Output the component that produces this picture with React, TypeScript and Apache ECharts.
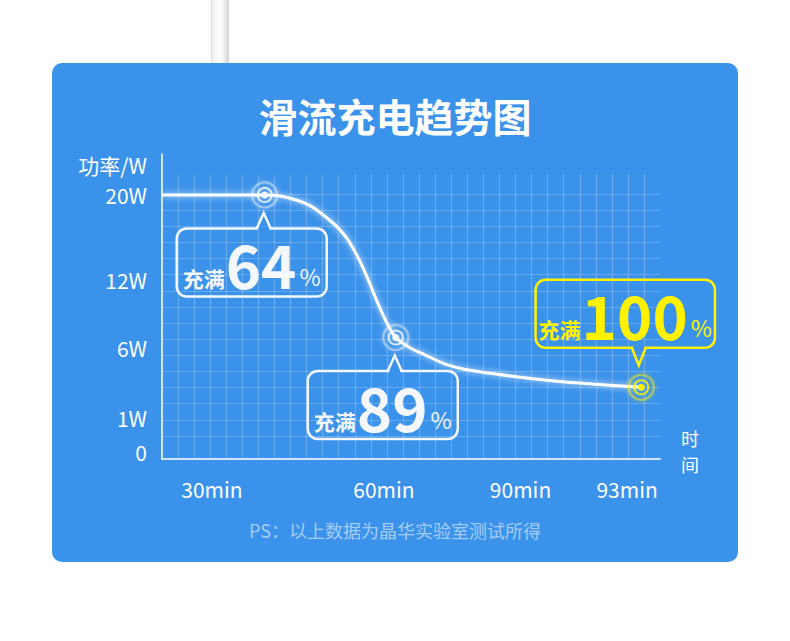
import React, { useEffect, useRef } from 'react';
import * as echarts from 'echarts';

// bottom axis ticks (time)
const xTickLabels = ['30min', '60min', '90min', '93min'];
const xTickMinutes = [30, 60, 90, 93];

// left axis ticks (power)
const yTickLabels = ['0', '1W', '6W', '12W', '20W'];
const yTickWatts = [0, 1, 6, 12, 20];

// charging curve: minutes / watts
const curveMinutes = [0, 39.2, 41.9, 44.8, 47.4, 49.9, 52.0, 53.7, 55.1, 56.3, 57.6, 58.8, 60.4, 62.6, 65.7, 69.0, 73.8, 78.9, 87.7, 91.1, 92.2, 93.4];
const curveWatts = [20, 20, 19.9, 19.5, 18.9, 17.9, 16.9, 15.8, 14.5, 13.2, 11.6, 10.1, 8.4, 6.9, 6.0, 5.5, 4.8, 4.4, 4.0, 3.6, 3.4, 3.2];

// charge level checkpoints on the curve
const markMinutes = [39.2, 62.6, 93.4];
const markWatts = [20, 6.9, 3.2];
const markPercent = ['64', '89', '100'];

// the drawn axes are not linear: each tick sits on a hand-placed grid cell
const CELL_X = 16.07;
const CELL_Y = 16.13;
const xTickCell = [3.11, 13.81, 22.31, 28.94];
const yTickCell = [0.45, 2.52, 6.9, 11.1, 16.37];

const FONT = '"Noto Sans CJK SC", "Noto Sans", sans-serif';
const BLUE = '#3b92ea';
const YELLOW = '#fff200';
const WHITE = '#f4f7fb';

// piecewise linear scale between tick anchors (extends past the last one)
const piecewise = (domain: number[], range: number[]) => (v: number) => {
  let i = 1;
  while (i < domain.length - 1 && v > domain[i]) i++;
  const t = (v - domain[i - 1]) / (domain[i] - domain[i - 1]);
  return range[i - 1] + t * (range[i] - range[i - 1]);
};
const toX = piecewise([0, ...xTickMinutes], [0, ...xTickCell]);
const toY = piecewise(yTickWatts, yTickCell);

const labelFor = (at: number[], labels: string[]) => (v: number) => {
  let best = 0;
  at.forEach((p, i) => {
    if (Math.abs(p - v) < Math.abs(at[best] - v)) best = i;
  });
  return labels[best];
};

const App: React.FC = () => {
  const chartRef = useRef<HTMLDivElement>(null);

  useEffect(() => {
    if (!chartRef.current) return;
    const chart = echarts.init(chartRef.current, undefined, { renderer: 'svg' });

    const curve = curveMinutes.map((m, i) => [toX(m), toY(curveWatts[i])]);
    const marks = markMinutes.map((m, i) => [toX(m), toY(markWatts[i]), i]);
    const xLabelAt = xTickMinutes.map(toX);
    const yLabelAt = yTickWatts.map(toY);

    const gridLine = { lineStyle: { color: 'rgba(255,255,255,0.22)', width: 1.2 } };
    const BOX_H = 68;

    // time axis title, one character per line past the end of the axis
    const timeTitle = ['时', '间'].map((ch, i) => ({
      type: 'text',
      x: 690,
      y: 437.5 + i * 26,
      style: {
        text: ch,
        fill: '#ffffff',
        font: `18px ${FONT}`,
        textAlign: 'center',
        textVerticalAlign: 'middle',
      },
    }));

    const option: any = {
      animation: false,
      backgroundColor: '#ffffff',
      title: {
        text: '滑流充电趋势图',
        left: 'center',
        top: 90,
        textStyle: { color: '#ffffff', fontSize: 39, fontWeight: 'bold', fontFamily: FONT },
      },
      graphic: [
        {
          type: 'rect',
          z: -10,
          shape: { x: 211, y: 0, width: 18, height: 64 },
          style: {
            fill: new echarts.graphic.LinearGradient(0, 0, 1, 0, [
              { offset: 0, color: '#dcdcdc' },
              { offset: 0.15, color: '#f5f5f5' },
              { offset: 0.55, color: '#ffffff' },
              { offset: 0.75, color: '#ececec' },
              { offset: 1, color: '#d2d2d2' },
            ]),
          },
        },
        {
          type: 'rect',
          z: -10,
          shape: { x: 52, y: 63, width: 686, height: 499, r: 10 },
          style: { fill: BLUE },
        },
        {
          type: 'text',
          x: 395,
          y: 530,
          style: {
            text: 'PS：以上数据为晶华实验室测试所得',
            fill: 'rgba(255,255,255,0.55)',
            font: `18px ${FONT}`,
            textAlign: 'center',
            textVerticalAlign: 'middle',
          },
        },
        ...timeTitle,
      ],
      grid: [
        { left: 162, top: 154, width: 31 * CELL_X, height: 305 },
        { left: 178, top: 174, width: 29 * CELL_X, height: 285 },
        { left: 162, top: 194, width: 31 * CELL_X, height: 15 * CELL_Y },
      ],
      xAxis: [
        {
          gridIndex: 0,
          type: 'value',
          min: 0,
          max: 31,
          axisLine: { lineStyle: { color: '#ffffff', width: 1.5 } },
          axisTick: { show: false },
          splitLine: { show: false },
          axisLabel: {
            customValues: xLabelAt,
            formatter: labelFor(xLabelAt, xTickLabels),
            color: '#ffffff',
            fontSize: 21,
            fontFamily: FONT,
            margin: 19,
          },
        },
        {
          gridIndex: 1,
          type: 'value',
          min: 0,
          max: 29,
          interval: 1,
          axisLine: { show: false },
          axisTick: { show: false },
          axisLabel: { show: false },
          splitLine: gridLine,
        },
        { gridIndex: 2, type: 'value', show: false, min: 0, max: 1 },
      ],
      yAxis: [
        {
          gridIndex: 0,
          type: 'value',
          min: 0,
          max: 305 / CELL_Y,
          axisLine: { show: true, lineStyle: { color: '#ffffff', width: 1.5 } },
          axisTick: { show: false },
          splitLine: { show: false },
          axisLabel: {
            customValues: yLabelAt,
            formatter: labelFor(yLabelAt, yTickLabels),
            color: '#ffffff',
            fontSize: 21,
            fontFamily: FONT,
            margin: 15,
          },
          name: '功率/W',
          nameLocation: 'end',
          nameGap: -10.6,
          nameTextStyle: {
            color: '#ffffff',
            fontSize: 21,
            fontFamily: FONT,
            align: 'right',
            verticalAlign: 'middle',
            padding: [0, 15, 0, 0],
          },
        },
        { gridIndex: 1, type: 'value', show: false, min: 0, max: 1 },
        {
          gridIndex: 2,
          type: 'value',
          min: 0,
          max: 15,
          interval: 1,
          axisLine: { show: false },
          axisTick: { show: false },
          axisLabel: { show: false },
          splitLine: gridLine,
        },
      ],
      series: [
        {
          type: 'line',
          xAxisIndex: 0,
          yAxisIndex: 0,
          data: curve,
          smooth: 0.3,
          symbol: 'none',
          z: 3,
          lineStyle: { color: '#ffffff', width: 3, shadowBlur: 6, shadowColor: 'rgba(255,255,255,0.8)' },
        },
        {
          type: 'custom',
          xAxisIndex: 0,
          yAxisIndex: 0,
          data: marks,
          clip: false,
          z: 4,
          renderItem: (params: any, api: any) => {
            const i = params.dataIndex;
            const [mx, my] = api.coord([api.value(0), api.value(1)]);
            const full = markPercent[i] === '100';
            const color = full ? YELLOW : WHITE;
            // full charge callout sits above its point, the others below
            const edgeY = full ? my - 39.5 : my + 33.5;
            const tipY = full ? my - 22 : my + 18;
            const tipX = mx - (full ? 2.5 : 1);
            const boxCx = mx - (full ? 16 : 13);
            const boxCy = full ? edgeY - BOX_H / 2 : edgeY + BOX_H / 2;
            const padX = full ? 3 : 6;
            return {
              type: 'group',
              children: [
                {
                  type: 'text',
                  style: {
                    x: boxCx,
                    y: boxCy,
                    text: `{a|充满}{b|${markPercent[i]}}{c|%}`,
                    align: 'center',
                    verticalAlign: 'middle',
                    padding: [3, padX, 3, padX],
                    borderColor: color,
                    borderWidth: 2.5,
                    borderRadius: 10,
                    rich: {
                      a: { fontSize: 21, fontWeight: 'bold', fontFamily: FONT, fill: color, verticalAlign: 'bottom', padding: [0, 1, 5, 0] },
                      b: { fontSize: 60, fontWeight: 'bold', fontFamily: FONT, fill: color, lineHeight: 62, padding: [0, 3, 0, 0] },
                      c: { fontSize: 23, fontFamily: FONT, fill: color, verticalAlign: 'bottom', padding: [0, 0, 6, 0] },
                    },
                  },
                },
                {
                  type: 'line',
                  shape: { x1: tipX - 5.5, y1: edgeY, x2: tipX + 5.5, y2: edgeY },
                  style: { stroke: BLUE, lineWidth: 4 },
                },
                {
                  type: 'polyline',
                  shape: { points: [[tipX - 7, edgeY], [tipX, tipY], [tipX + 7, edgeY]] },
                  style: { stroke: color, lineWidth: 2.5, fill: null },
                },
                {
                  type: 'circle',
                  shape: { cx: mx, cy: my, r: 12.5 },
                  style: { fill: 'none', stroke: color, lineWidth: 2, opacity: 0.45, shadowBlur: 4, shadowColor: color },
                },
                {
                  type: 'circle',
                  shape: { cx: mx, cy: my, r: 7 },
                  style: { fill: 'none', stroke: color, lineWidth: 2, opacity: 0.85 },
                },
                {
                  type: 'circle',
                  shape: { cx: mx, cy: my, r: 3.5 },
                  style: { fill: color },
                },
              ],
            };
          },
        },
      ],
    };

    chart.setOption(option);

    return () => {
      chart.dispose();
    };
  }, []);

  return (
    <div
      ref={chartRef}
      style={{ position: 'absolute', left: 0, top: 0, width: '790px', height: '641px' }}
    />
  );
};

export default App;
